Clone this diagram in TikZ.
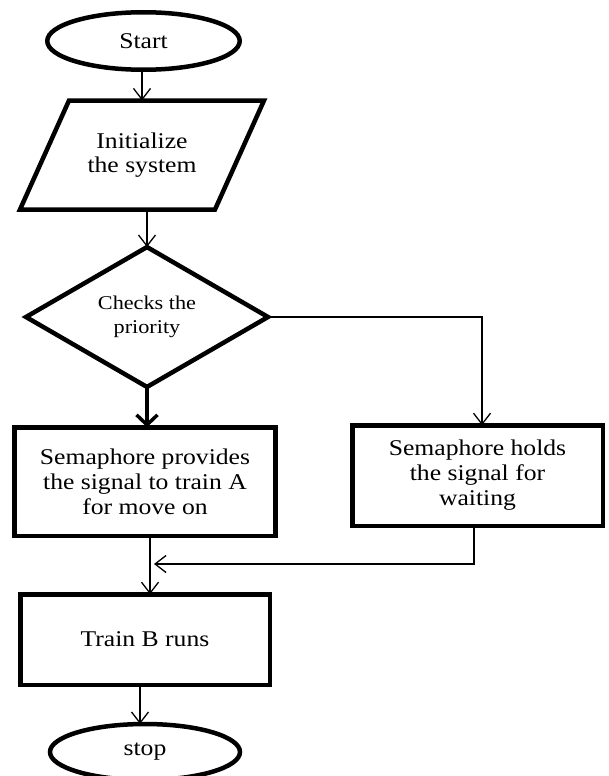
\documentclass[tikz,border=0pt]{standalone}
\usepackage{fontspec}
\setmainfont[FakeStretch=1.14]{Liberation Serif}
\usetikzlibrary{shapes.geometric,arrows.meta}
\begin{document}
\begin{tikzpicture}[x=1pt,y=-1pt,
  term/.style={ellipse,draw,line width=4.5pt,inner sep=0pt,outer sep=0pt,font=\fontsize{22.5}{25}\selectfont},
  procbox/.style={rectangle,draw,line width=4.5pt,inner sep=0pt,outer sep=0pt,align=center,font=\fontsize{22.5}{25}\selectfont},
  iobox/.style={rectangle,inner sep=0pt,outer sep=0pt,align=center,font=\fontsize{22.5}{24}\selectfont},
  dec/.style={diamond,draw,line width=4.5pt,inner sep=0pt,outer sep=0pt,align=center,font=\fontsize{19.5}{24}\selectfont},
  conn/.style={line width=1.3pt,-{Straight Barb[length=11pt,width=17pt]}},
  thickconn/.style={line width=3.5pt,-{Straight Barb[length=10pt,width=21pt]}},
  shapeline/.style={line width=4.5pt,line join=miter},
]
\useasboundingbox (0,0) rectangle (609,776);
\clip (0,0) rectangle (609,776);

\node[term,minimum width=192.5pt,minimum height=57.5pt] (start) at (143.5,41) {Start};

\node[iobox,minimum width=150pt,minimum height=109pt] (init) at (142,155) {Initialize\\the system};
\draw[shapeline] (69,100.5) -- (264,100.5) -- (215,209.5) -- (20,209.5) -- cycle;

\node[dec,minimum width=242pt,minimum height=135pt] (dia) at (147,317) {Checks the\\priority};

\node[procbox,minimum width=261pt,minimum height=108.5pt] (box1) at (145,481.5) {Semaphore provides\\the signal to train A\\for move on};
\node[procbox,minimum width=250.5pt,minimum height=100.5pt] (box2) at (477.5,475.5) {Semaphore holds\\the signal for\\waiting};
\node[procbox,minimum width=249.5pt,minimum height=90.5pt] (box3) at (145,639.5) {Train B runs};
\node[term,minimum width=190pt,minimum height=56pt] (stop) at (145,752) {stop};

\coordinate (m) at (150,564);

\draw[conn] (start.south -| init.north) -- (init.north);
\draw[conn] (init.south -| dia.north) -- (dia.north);
\draw[thickconn] (dia.south) -- (dia.south |- box1.north);
\draw[conn] (dia.east) -| ([xshift=4.5pt]box2.north);
\draw[conn,shorten >=4pt] ([xshift=-3.5pt]box2.south) |- (m);
\draw[conn] (box1.south -| m) -- (m |- box3.north);
\draw[conn] ([xshift=-5pt]box3.south) -- ([xshift=-5pt]box3.south |- stop.north);
\end{tikzpicture}
\end{document}
